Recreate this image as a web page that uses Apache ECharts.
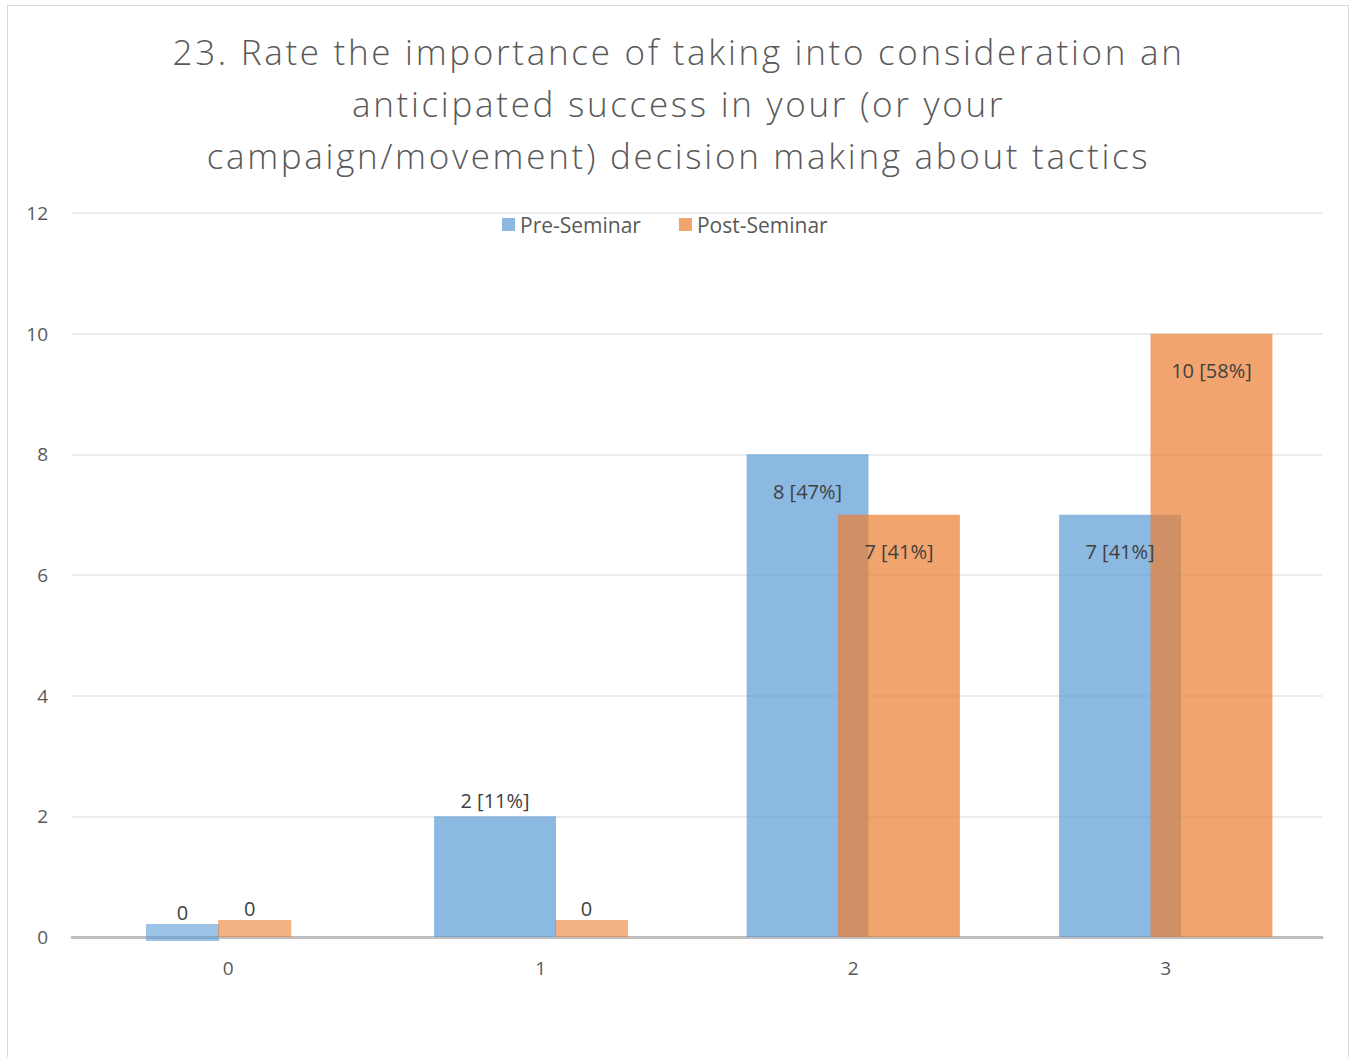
<!DOCTYPE html>
<html><head><meta charset="utf-8">
<script src="https://cdn.jsdelivr.net/npm/echarts@6/dist/echarts.min.js"></script>
<style>
html,body{margin:0;padding:0;background:#fff;}
#frame{position:absolute;left:7px;top:5px;width:1342px;height:1070px;border:1px solid #d9d9d9;box-sizing:border-box;}
#chart{position:absolute;left:0;top:0;width:1357px;height:1057px;}
</style></head>
<body>
<div id="frame"></div>
<div id="chart"></div>
<script>
const titleLines = [
  '23. Rate the importance of taking into consideration an',
  'anticipated success in your (or your',
  'campaign/movement) decision making about tactics'
];
const categories = ['0', '1', '2', '3'];
const seriesNames = ['Pre-Seminar', 'Post-Seminar'];
const preValues = [0, 2, 8, 7];
const prePct = [0, 11, 47, 41];
const postValues = [0, 0, 7, 10];
const postPct = [0, 0, 41, 58];
const yTicks = [0, 2, 4, 6, 8, 10, 12];

const BAR_FRAC = 0.39;   // bar width as fraction of category band
const GAP_FRAC = -0.25;  // gap between bars as fraction of bar width
const STUB_FRAC = 0.6;   // zero-stub width as fraction of bar width

function items(vals, pcts) {
  return vals.map((v, i) => ({
    value: v,
    label: {
      show: v !== 0,
      position: v < 4 ? 'top' : 'insideTop',
      distance: v < 4 ? 6 : 27,
      formatter: v + ' [' + pcts[i] + '%]'
    }
  }));
}

const zeroStubs = [];
preValues.forEach((v, i) => { if (v === 0) zeroStubs.push([i, 0]); });
postValues.forEach((v, i) => { if (v === 0) zeroStubs.push([i, 1]); });

const barColors = ['rgba(91,155,213,0.7)', 'rgba(237,125,49,0.7)'];
const stubColors = ['rgba(91,155,213,0.6)', 'rgba(237,125,49,0.6)'];

const chart = echarts.init(document.getElementById('chart'), null, {renderer: 'svg'});
chart.setOption({
  animation: false,
  title: {
    text: titleLines.join('\n'),
    left: 'center', top: 20,
    textStyle: {fontFamily: 'Open Sans', fontWeight: 300, fontSize: 35, color: '#595959', lineHeight: 52}
  },
  legend: {
    data: seriesNames,
    top: 209, left: 497,
    icon: 'rect', itemWidth: 13, itemHeight: 13, itemGap: 38,
    textStyle: {fontFamily: 'Open Sans', fontSize: 21, color: '#595959'}
  },
  grid: {left: 72, right: 35, top: 213, bottom: 120},
  xAxis: {
    type: 'category', data: categories,
    axisLine: {lineStyle: {color: '#bfbfbf', width: 3}},
    axisTick: {show: false},
    axisLabel: {fontFamily: 'Open Sans', fontSize: 19, color: '#595959', margin: 21}
  },
  yAxis: {
    type: 'value', min: yTicks[0], max: yTicks[yTicks.length - 1], interval: yTicks[1] - yTicks[0],
    axisLine: {show: false}, axisTick: {show: false},
    axisLabel: {fontFamily: 'Open Sans', fontSize: 19, color: '#595959', margin: 24},
    splitLine: {lineStyle: {color: '#ececec', width: 2}}
  },
  series: [
    {
      name: seriesNames[0], type: 'bar', data: items(preValues, prePct),
      barWidth: (BAR_FRAC * 100) + '%', barGap: (GAP_FRAC * 100) + '%',
      itemStyle: {color: barColors[0]},
      label: {fontFamily: 'Open Sans', fontSize: 20, color: '#404040'}
    },
    {
      name: seriesNames[1], type: 'bar', data: items(postValues, postPct),
      barWidth: (BAR_FRAC * 100) + '%', barGap: (GAP_FRAC * 100) + '%',
      itemStyle: {color: barColors[1]},
      label: {fontFamily: 'Open Sans', fontSize: 20, color: '#404040'}
    },
    {
      type: 'custom', data: zeroStubs, z: 5, silent: true,
      renderItem: function (params, api) {
        const cat = api.value(0), s = api.value(1);
        const c = api.coord([cat, 0]);
        const band = api.size([1, 0])[0];
        const bw = band * BAR_FRAC;
        const total = bw * 2 + bw * GAP_FRAC;
        const blueCenter = c[0] - total / 2 + bw / 2;
        const stubW = bw * STUB_FRAC;
        let x, y, h;
        if (s === 0) {
          x = blueCenter - stubW / 2; y = c[1] - 13; h = 17;
        } else {
          const blueRight = preValues[cat] === 0 ? blueCenter + stubW / 2 : blueCenter + bw / 2;
          x = blueRight - 1; y = c[1] - 17; h = 17;
        }
        return {
          type: 'group',
          children: [
            {type: 'rect', shape: {x: x, y: y, width: stubW, height: h},
             style: {fill: stubColors[s]}},
            {type: 'text', style: {text: '0', x: x + stubW / 2 - (s === 0 ? 0 : 5), y: y - 2,
              textAlign: 'center', textVerticalAlign: 'bottom',
              font: '20px "Open Sans"', fill: '#404040'}}
          ]
        };
      }
    }
  ]
});

function spaceTitle() {
  document.querySelectorAll('#chart text, #chart tspan').forEach(function (el) {
    if (titleLines.indexOf(el.textContent) >= 0) {
      el.style.letterSpacing = '2.7px';
    }
  });
}
spaceTitle();
chart.on('finished', spaceTitle);
</script>
</body></html>
